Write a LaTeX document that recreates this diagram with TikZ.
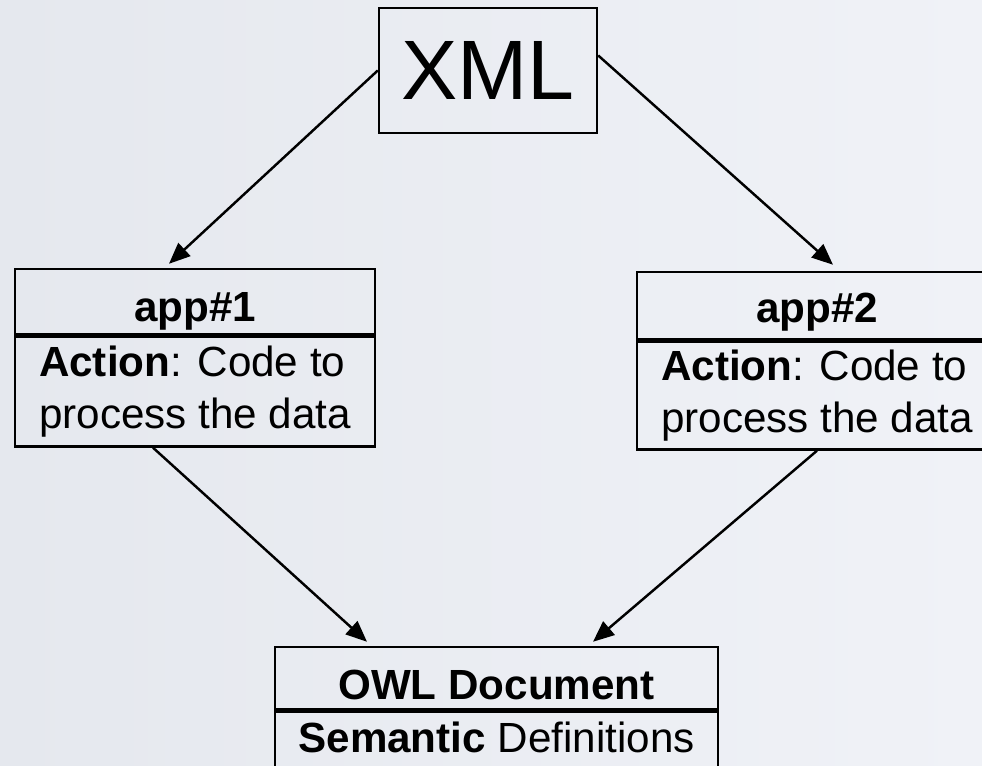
\documentclass[tikz,border=0pt]{standalone}
\usepackage{fontspec}
\setmainfont{Liberation Sans}
\usetikzlibrary{positioning,arrows.meta}

\definecolor{slideleft}{RGB}{229,232,238}
\definecolor{slideright}{RGB}{240,242,247}

\tikzset{
  part/.style={draw, line width=1.4pt, inner sep=0pt, align=left,
    font=\fontsize{24}{30}\selectfont},
  flow/.style={->, line width=1.4pt},
}

\begin{document}
\begin{tikzpicture}[>={Triangle[length=12pt,width=10pt]}]
  % Slide area and faded background
  \useasboundingbox (0,0) rectangle (19.64,15.3);
  \fill[left color=slideleft, right color=slideright] (0,0) rectangle (19.64,15.3);

  % Source document
  \node[draw, line width=1.4pt, minimum width=4.36cm, minimum height=2.5cm,
    font=\fontsize{48}{56}\selectfont] (xml) at (9.76,13.89) {XML};

  % First application
  \node[part, minimum width=7.2cm, text height=1.06cm, text depth=0.24cm] (app1) at (3.9,9.27)
    {\textbf{app\#1}};
  \node[part, minimum width=7.2cm, minimum height=2.2cm, below=0pt of app1] (act1)
    {\textbf{Action}: Code to\\process the data};

  % Second application (runs off the right edge)
  \node[part, minimum width=7.2cm, text height=1.02cm, text depth=0.32cm] (app2) at (16.34,9.19)
    {\textbf{app\#2}};
  \node[part, minimum width=7.2cm, minimum height=2.16cm, below=0pt of app2] (act2)
    {\textbf{Action}: Code to\\process the data};

  % Ontology (runs off the bottom edge)
  \node[part, minimum width=8.86cm, text height=1.04cm, text depth=0.2cm] (owl) at (9.93,1.74)
    {\textbf{OWL Document}};
  \node[part, minimum width=8.86cm, text height=0.82cm, text depth=0.7cm, below=0pt of owl] (sem)
    {\textbf{Semantic} Definitions};

  % Connectors
  \draw[flow] (xml.west) -- ([xshift=-0.52cm, yshift=0.08cm]app1.north);
  \draw[flow] ([yshift=0.3cm]xml.east) -- ([xshift=0.32cm, yshift=0.12cm]app2.north);
  \draw[flow] ([xshift=-0.84cm]act1.south) -- ([xshift=-2.59cm, yshift=0.08cm]owl.north);
  \draw[flow] (act2.south) -- ([xshift=1.93cm, yshift=0.08cm]owl.north);
\end{tikzpicture}
\end{document}
